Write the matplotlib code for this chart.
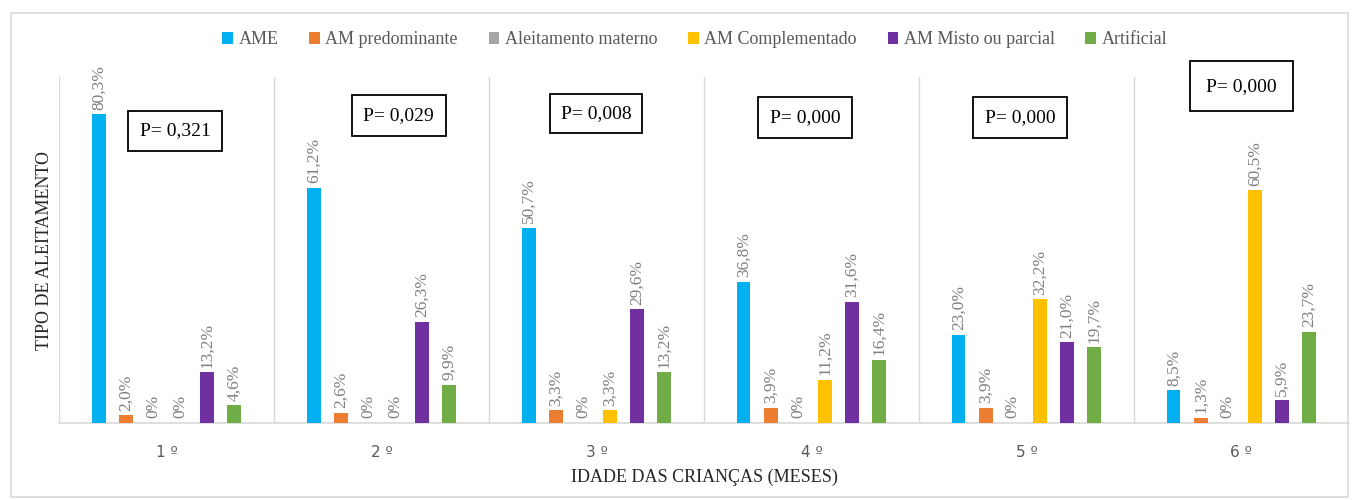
import matplotlib.pyplot as plt
import numpy as np
from matplotlib.patches import Rectangle

plt.rcParams['font.family'] = ['Liberation Serif', 'DejaVu Serif']

meses = ['1 º', '2 º', '3 º', '4 º', '5 º', '6 º']
series = ['AME', 'AM predominante', 'Aleitamento materno', 'AM Complementado',
          'AM Misto ou parcial', 'Artificial']
cores = ['#00B0F0', '#ED7D31', '#A5A5A5', '#FFC000', '#7030A0', '#70AD47']

ame = [80.3, 61.2, 50.7, 36.8, 23.0, 8.5]
am_pred = [2.0, 2.6, 3.3, 3.9, 3.9, 1.3]
aleit = [0, 0, 0, 0, 0, 0]
am_comp = [0, 0, 3.3, 11.2, 32.2, 60.5]
am_misto = [13.2, 26.3, 29.6, 31.6, 21.0, 5.9]
artificial = [4.6, 9.9, 13.2, 16.4, 19.7, 23.7]
valores = [ame, am_pred, aleit, am_comp, am_misto, artificial]

p_valores = ['P= 0,321', 'P= 0,029', 'P= 0,008', 'P= 0,000', 'P= 0,000', 'P= 0,000']
# posição das caixas (deslocamento no grupo, altura em %)
p_dx = [0.04, 0.08, 0.0, -0.03, -0.03, 0.0]
p_y = [76, 80, 80.5, 79.5, 79.5, 87.6]
p_pad = [0.6, 0.6, 0.55, 0.6, 0.6, 0.85]

fig = plt.figure(figsize=(13.57, 5.0), dpi=100)
ax = fig.add_axes([0.0435, 0.154, 0.9505, 0.692])

x = np.arange(len(meses))
slot = 0.126
larg = 0.063
for i, (nome, vals, cor) in enumerate(zip(series, valores, cores)):
    pos = x + (i - 2.5) * slot
    ax.bar(pos, vals, width=larg, color=cor, label=nome, zorder=3)
    for xp, v in zip(pos, vals):
        txt = '0%' if v == 0 else f'{v:.1f}%'.replace('.', ',')
        ax.text(xp, v + 1.2, txt, rotation=90, ha='center', va='bottom',
                fontsize=12.5, color='#808080')

for i, p in enumerate(p_valores):
    ax.text(x[i] + p_dx[i], p_y[i], p, ha='center', va='center', fontsize=14,
            bbox=dict(boxstyle=f'square,pad={p_pad[i]}', fc='white', ec='black', lw=1.3),
            clip_on=False, zorder=5)

for b in np.arange(-0.5, len(meses) + 0.5, 1):
    ax.axvline(b, ymin=0, ymax=1, color='#D9D9D9', lw=1, zorder=1)

ax.set_xlim(-0.5, 5.5)
ax.set_ylim(0, 90)
ax.set_yticks([])
ax.set_xticks(x)
ax.set_xticklabels(meses, family='DejaVu Sans', fontsize=11, color='#595959')
ax.tick_params(axis='x', length=0, pad=16)
for s in ['top', 'right', 'left']:
    ax.spines[s].set_visible(False)
ax.spines['bottom'].set_color('#D9D9D9')
ax.spines['bottom'].set_linewidth(1.2)

ax.set_xlabel('IDADE DAS CRIANÇAS (MESES)', fontsize=13, labelpad=6, color='#262626')
ax.set_ylabel('TIPO DE ALEITAMENTO', fontsize=13, labelpad=4, color='#262626')

ax.legend(loc='center', bbox_to_anchor=(0.512, 0.92), bbox_transform=fig.transFigure,
          ncol=6, frameon=False, fontsize=13, handlelength=0.6, handleheight=0.6,
          handletextpad=0.3, columnspacing=1.7, labelcolor='#595959')

fig.patches.append(Rectangle((0.008, 0.006), 0.985, 0.968, transform=fig.transFigure,
                             fill=False, ec='#D9D9D9', lw=1.2))

fig.savefig('out.png', dpi=100)
